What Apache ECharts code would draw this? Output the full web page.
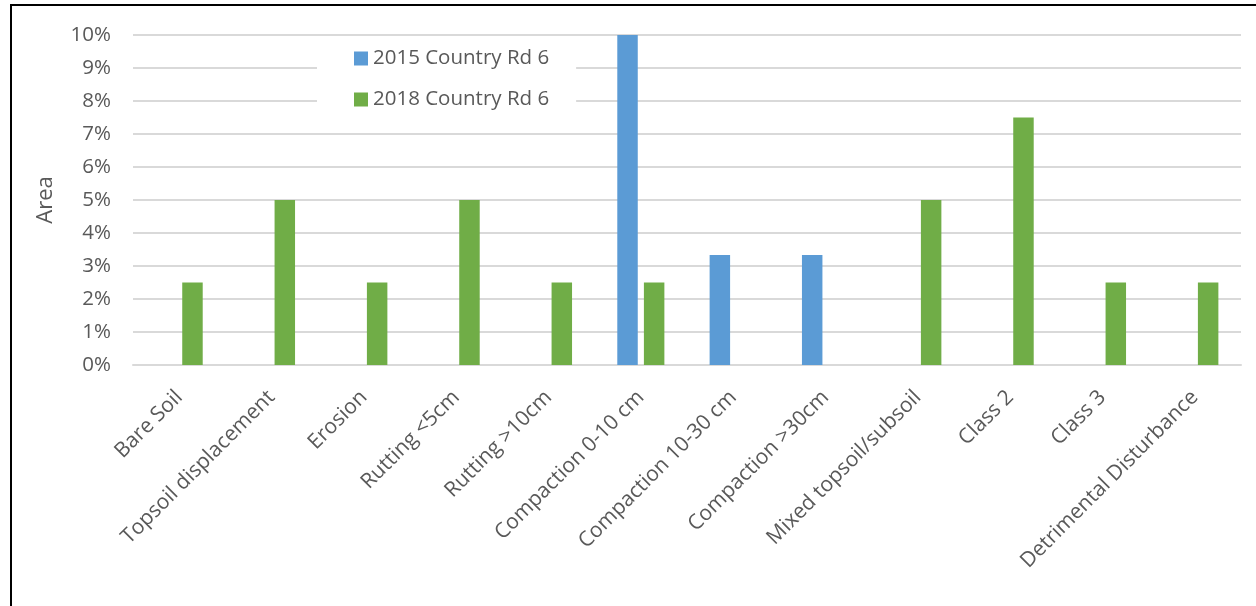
<!DOCTYPE html>
<html><head><meta charset="utf-8">
<script src="https://cdn.jsdelivr.net/npm/echarts@6/dist/echarts.min.js"></script>
<style>html,body{margin:0;padding:0;background:#fff;}#c{width:1256px;height:606px;}</style>
</head><body><div id="c"></div>
<script>
const categories = ["Bare Soil","Topsoil displacement","Erosion","Rutting <5cm","Rutting >10cm","Compaction 0-10 cm","Compaction 10-30 cm","Compaction >30cm","Mixed topsoil/subsoil","Class 2","Class 3","Detrimental Disturbance"];
const series2015 = [0,0,0,0,0,10,3.33,3.33,0,0,0,0];
const series2018 = [2.5,5,2.5,5,2.5,2.5,0,0,5,7.5,2.5,2.5];
const yTicks = [0,1,2,3,4,5,6,7,8,9,10];
const FONT = "Open Sans";
const chart = echarts.init(document.getElementById('c'));
chart.setOption({
  animation:false,
  textStyle:{fontFamily:FONT},
  graphic:[{type:'rect',shape:{x:11,y:5,width:1400,height:800},style:{fill:'none',stroke:'#000',lineWidth:2},z:100}],
  legend:{
    orient:'vertical', left:317, top:40, backgroundColor:'#fff', padding:[8,27,8,37],
    itemWidth:14,itemHeight:14,itemGap:20,
    textStyle:{fontSize:20.5,color:'#595959',fontFamily:FONT},
    data:[{name:'2015 Country Rd 6',icon:'rect'},{name:'2018 Country Rd 6',icon:'rect'}]
  },
  grid:{left:133,right:15,top:35,bottom:241,containLabel:false},
  xAxis:{type:'category',data:categories,
    axisLine:{lineStyle:{color:'#d9d9d9',width:2}},axisTick:{show:false},
    axisLabel:{rotate:45,fontSize:21,color:'#595959',margin:29,interval:0,fontFamily:FONT}},
  yAxis:{type:'value',min:0,max:10,interval:1,
    name:'Area',nameLocation:'middle',nameGap:76,nameRotate:90,
    nameTextStyle:{fontSize:22,color:'#595959',fontFamily:FONT},
    axisLabel:{formatter:v=>yTicks.includes(v)?v+'%':'',fontSize:20.5,color:'#595959',margin:22,fontFamily:FONT},
    splitLine:{lineStyle:{color:'#d9d9d9',width:2}},axisLine:{show:false},axisTick:{show:false}},
  series:[
    {name:'2015 Country Rd 6',type:'bar',data:series2015,itemStyle:{color:'#5B9BD5'},barGap:'30%',barCategoryGap:'49%',z:1},
    {name:'2018 Country Rd 6',type:'bar',data:series2018,itemStyle:{color:'#70AD47'},z:1}
  ]
});
</script></body></html>
